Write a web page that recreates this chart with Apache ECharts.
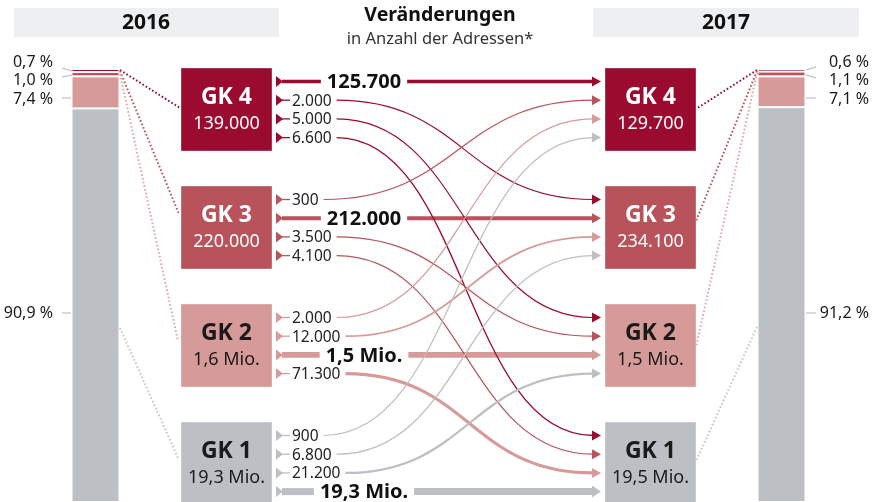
<!DOCTYPE html>
<html><head><meta charset="utf-8">
<script src="https://cdn.jsdelivr.net/npm/echarts@6/dist/echarts.min.js"></script>
<style>html,body{margin:0;padding:0;background:#fff}#c{width:874px;height:502px}</style>
</head><body><div id="c"></div>
<script>
// ---- data ----
const categories = ['GK 4', 'GK 3', 'GK 2', 'GK 1'];
const years = ['2016', '2017'];
const title = 'Veränderungen';
const subtitle = 'in Anzahl der Adressen*';
const total2016 = ['139.000', '220.000', '1,6 Mio.', '19,3 Mio.'];
const total2017 = ['129.700', '234.100', '1,5 Mio.', '19,5 Mio.'];
const share2016 = [0.7, 1.0, 7.4, 90.9];
const share2017 = [0.6, 1.1, 7.1, 91.2];
// rows = source class (2016), columns = target class (2017)
const flowLabels = [
  ['125.700', '2.000', '5.000', '6.600'],
  ['300', '212.000', '3.500', '4.100'],
  ['2.000', '12.000', '1,5 Mio.', '71.300'],
  ['900', '6.800', '21.200', '19,3 Mio.']
];
const flowValues = [
  [125700, 2000, 5000, 6600],
  [300, 212000, 3500, 4100],
  [2000, 12000, 1500000, 71300],
  [900, 6800, 21200, 19300000]
];

// ---- styles / layout ----
const colors = ['#9a0b2f', '#b8535b', '#d69b99', '#bcbfc4'];
const textColors = ['#ffffff', '#ffffff', '#1a1a1a', '#1a1a1a'];
const FONT = '"Noto Sans", "Open Sans", sans-serif';
const L = {
  boxTop: [68, 186, 304, 422], boxH: 83, lx: 181, rx: 605, bw: 91,
  slot0: 13.5, slotStep: 18.7, flagX: 276, labelX: 292, stayCx: 364, tip: 601
};
const fmtPct = v => v.toFixed(1).replace('.', ',') + ' %';
const mctx = document.createElement('canvas').getContext('2d');
function tw(text, font) { mctx.font = font; return mctx.measureText(text).width; }
function widthOf(v) { return Math.max(1.2, Math.min(7, 1.1 + 1.8 * Math.log10(v / 5000))); }

const flowData = [];
for (let s = 0; s < 4; s++) flowData.push([s, s]);
for (let s = 0; s < 4; s++) for (let t = 0; t < 4; t++) if (s !== t) flowData.push([s, t]);

function renderFlow(params, api) {
  const s = api.value(0), t = api.value(1);
  const v = flowValues[s][t], lab = flowLabels[s][t], col = colors[s];
  const P = (x, y) => api.coord([x, y]);
  const y0 = L.boxTop[s] + L.slot0 + L.slotStep * t;
  const y1 = L.boxTop[t] + L.slot0 + L.slotStep * s;
  const w = widthOf(v);
  const ch = [];
  ch.push({ type: 'polygon', shape: { points: [P(L.flagX, y0 - 5.5), P(L.flagX, y0 + 5.5), P(L.flagX + 7, y0)] }, style: { fill: col } });
  const h = Math.max(5, w / 2 + 2.5);
  const aBase = L.tip - 9;
  if (s === t) {
    const f = 'bold 20px ' + FONT;
    const wd = tw(lab, f);
    const a = P(L.flagX + 6, y0), b = P(L.stayCx - wd / 2 - 6, y0), c = P(L.stayCx + wd / 2 + 6, y0), d = P(aBase + 1, y1);
    ch.push({ type: 'line', shape: { x1: a[0], y1: a[1], x2: b[0], y2: b[1] }, style: { stroke: col, lineWidth: w } });
    ch.push({ type: 'line', shape: { x1: c[0], y1: c[1], x2: d[0], y2: d[1] }, style: { stroke: col, lineWidth: w } });
    const tp = P(L.stayCx, y0 + 1);
    ch.push({ type: 'text', x: tp[0], y: tp[1], style: { text: lab, font: f, fill: '#111', align: 'center', verticalAlign: 'middle' } });
  } else {
    const f = '15.5px ' + FONT;
    const wd = tw(lab, f);
    const a = P(L.flagX + 6, y0), b = P(L.labelX - 2, y0);
    ch.push({ type: 'line', shape: { x1: a[0], y1: a[1], x2: b[0], y2: b[1] }, style: { stroke: col, lineWidth: 1.3 } });
    const tp = P(L.labelX, y0 + 1);
    ch.push({ type: 'text', x: tp[0], y: tp[1], style: { text: lab, font: f, fill: '#222', align: 'left', verticalAlign: 'middle' } });
    const x0 = L.labelX + wd + 5, x1 = aBase + 1;
    const k = 0.5 * (x1 - x0);
    const p0 = P(x0, y0), p1 = P(x1, y1), c1 = P(x0 + k, y0), c2 = P(x1 - k, y1);
    ch.push({ type: 'bezierCurve', shape: { x1: p0[0], y1: p0[1], x2: p1[0], y2: p1[1], cpx1: c1[0], cpy1: c1[1], cpx2: c2[0], cpy2: c2[1] }, style: { stroke: col, lineWidth: w, fill: null } });
  }
  ch.push({ type: 'polygon', shape: { points: [P(aBase, y1 - h), P(aBase, y1 + h), P(L.tip, y1)] }, style: { fill: col } });
  return { type: 'group', children: ch };
}

function renderBox(params, api) {
  const i = api.value(0);
  const P = (x, y) => api.coord([x, y]);
  const ch = [];
  [[L.lx, total2016[i]], [L.rx, total2017[i]]].forEach(([x, val]) => {
    const a = P(x, L.boxTop[i]), b = P(x + L.bw, L.boxTop[i] + L.boxH);
    ch.push({ type: 'rect', shape: { x: a[0], y: a[1], width: b[0] - a[0], height: b[1] - a[1] }, style: { fill: colors[i], stroke: 'rgba(255,255,255,0.35)', lineWidth: 1 } });
    const t1 = P(x + L.bw / 2, L.boxTop[i] + 29), t2 = P(x + L.bw / 2, L.boxTop[i] + 56);
    ch.push({ type: 'text', x: t1[0], y: t1[1], style: { text: categories[i], font: 'bold 23px ' + FONT, fill: textColors[i], align: 'center', verticalAlign: 'middle' } });
    ch.push({ type: 'text', x: t2[0], y: t2[1], style: { text: val, font: '18px ' + FONT, fill: textColors[i], align: 'center', verticalAlign: 'middle' } });
  });
  return { type: 'group', children: ch };
}

// connectors and percentage labels (layout)
const leftLabelY = [62, 80, 99, 313];
const rightLabelY = [62, 80, 99, 313];
const leftLead = [[62, 68, 72, 71], [62, 77, 72, 75], [62, 98, 71, 98], [62, 313, 71, 313]];
const rightLead = [[816, 67, 806, 70], [816, 78, 806, 75], [816, 98, 806, 98], [816, 313, 806, 313]];
const leftDots = [[120, 70, 180, 108], [120, 71, 179, 214], [120, 74, 178, 341], [120, 328, 178, 458]];
const rightDots = [[757, 70, 696, 109], [757, 71, 696, 221], [757, 73, 696, 347], [757, 327, 696, 461]];
const dotColors = ['#9a0b2f', '#b8535b', '#e0a6a5', '#c4c6ca'];

function renderDecor(params, api) {
  const i = api.value(0);
  const P = (x, y) => api.coord([x, y]);
  const ch = [];
  const seg = (q, style) => { const a = P(q[0], q[1]), b = P(q[2], q[3]); return { type: 'line', shape: { x1: a[0], y1: a[1], x2: b[0], y2: b[1] }, style }; };
  ch.push(seg(leftLead[i], { stroke: '#b5b5b5', lineWidth: 1 }));
  ch.push(seg(rightLead[i], { stroke: '#b5b5b5', lineWidth: 1 }));
  ch.push(seg(leftDots[i], { stroke: dotColors[i], lineWidth: 2, lineDash: [1.6, 2.2] }));
  ch.push(seg(rightDots[i], { stroke: dotColors[i], lineWidth: 2, lineDash: [1.6, 2.2] }));
  const a = P(53, leftLabelY[i]), b = P(869, rightLabelY[i]);
  ch.push({ type: 'text', x: a[0], y: a[1], style: { text: fmtPct(share2016[i]), font: '16px ' + FONT, fill: '#1a1a1a', align: 'right', verticalAlign: 'middle' } });
  ch.push({ type: 'text', x: b[0], y: b[1], style: { text: fmtPct(share2017[i]), font: '16px ' + FONT, fill: '#1a1a1a', align: 'right', verticalAlign: 'middle' } });
  return { type: 'group', children: ch };
}

const barSeries = [];
categories.forEach((c, i) => {
  barSeries.push({ type: 'bar', name: c, stack: 'y2016', xAxisIndex: 1, yAxisIndex: 1, data: [share2016[i]], barWidth: '100%', itemStyle: { color: colors[i], borderColor: '#fff', borderWidth: 1 }, silent: true, animation: false });
  barSeries.push({ type: 'bar', name: c, stack: 'y2017', xAxisIndex: 2, yAxisIndex: 2, data: [share2017[i]], barWidth: '100%', itemStyle: { color: colors[i], borderColor: '#fff', borderWidth: 1 }, silent: true, animation: false });
});

const chart = echarts.init(document.getElementById('c'), null, { renderer: 'canvas' });
chart.setOption({
  animation: false,
  backgroundColor: '#fff',
  grid: [
    { left: 0, top: 0, width: 874, height: 502 },
    { left: 71.5, top: 69, width: 48, height: 470 },
    { left: 757.5, top: 69, width: 48, height: 440 }
  ],
  xAxis: [
    { type: 'value', min: 0, max: 874, show: false, gridIndex: 0 },
    { type: 'category', data: [years[0]], show: false, gridIndex: 1 },
    { type: 'category', data: [years[1]], show: false, gridIndex: 2 }
  ],
  yAxis: [
    { type: 'value', min: 0, max: 502, inverse: true, show: false, gridIndex: 0 },
    { type: 'value', min: 0, max: 100, inverse: true, show: false, gridIndex: 1 },
    { type: 'value', min: 0, max: 100, inverse: true, show: false, gridIndex: 2 }
  ],
  graphic: [
    { type: 'rect', left: 14, top: 8, shape: { width: 265, height: 29 }, style: { fill: '#eeeff1' } },
    { type: 'rect', left: 593, top: 8, shape: { width: 266, height: 29 }, style: { fill: '#eeeff1' } },
    { type: 'text', x: 146, y: 23, style: { text: years[0], font: 'bold 21px ' + FONT, fill: '#111', align: 'center', verticalAlign: 'middle', textAlign: 'center', textVerticalAlign: 'middle' } },
    { type: 'text', x: 726, y: 23, style: { text: years[1], font: 'bold 21px ' + FONT, fill: '#111', align: 'center', verticalAlign: 'middle', textAlign: 'center', textVerticalAlign: 'middle' } },
    { type: 'text', x: 440, y: 15, style: { text: title, font: 'bold 19.5px ' + FONT, fill: '#111', align: 'center', verticalAlign: 'middle', textAlign: 'center', textVerticalAlign: 'middle' } },
    { type: 'text', x: 440, y: 39, style: { text: subtitle, font: '16.5px ' + FONT, fill: '#333', align: 'center', verticalAlign: 'middle', textAlign: 'center', textVerticalAlign: 'middle' } }
  ],
  series: barSeries.concat([
    { type: 'custom', name: 'decor', xAxisIndex: 0, yAxisIndex: 0, clip: false, silent: true, data: categories.map((c, i) => [i]), renderItem: renderDecor, z: 3 },
    { type: 'custom', name: 'flows', xAxisIndex: 0, yAxisIndex: 0, clip: false, silent: true, data: flowData, renderItem: renderFlow, z: 4 },
    { type: 'custom', name: 'boxes', xAxisIndex: 0, yAxisIndex: 0, clip: false, silent: true, data: categories.map((c, i) => [i]), renderItem: renderBox, z: 5 }
  ])
});
</script>
</body></html>
